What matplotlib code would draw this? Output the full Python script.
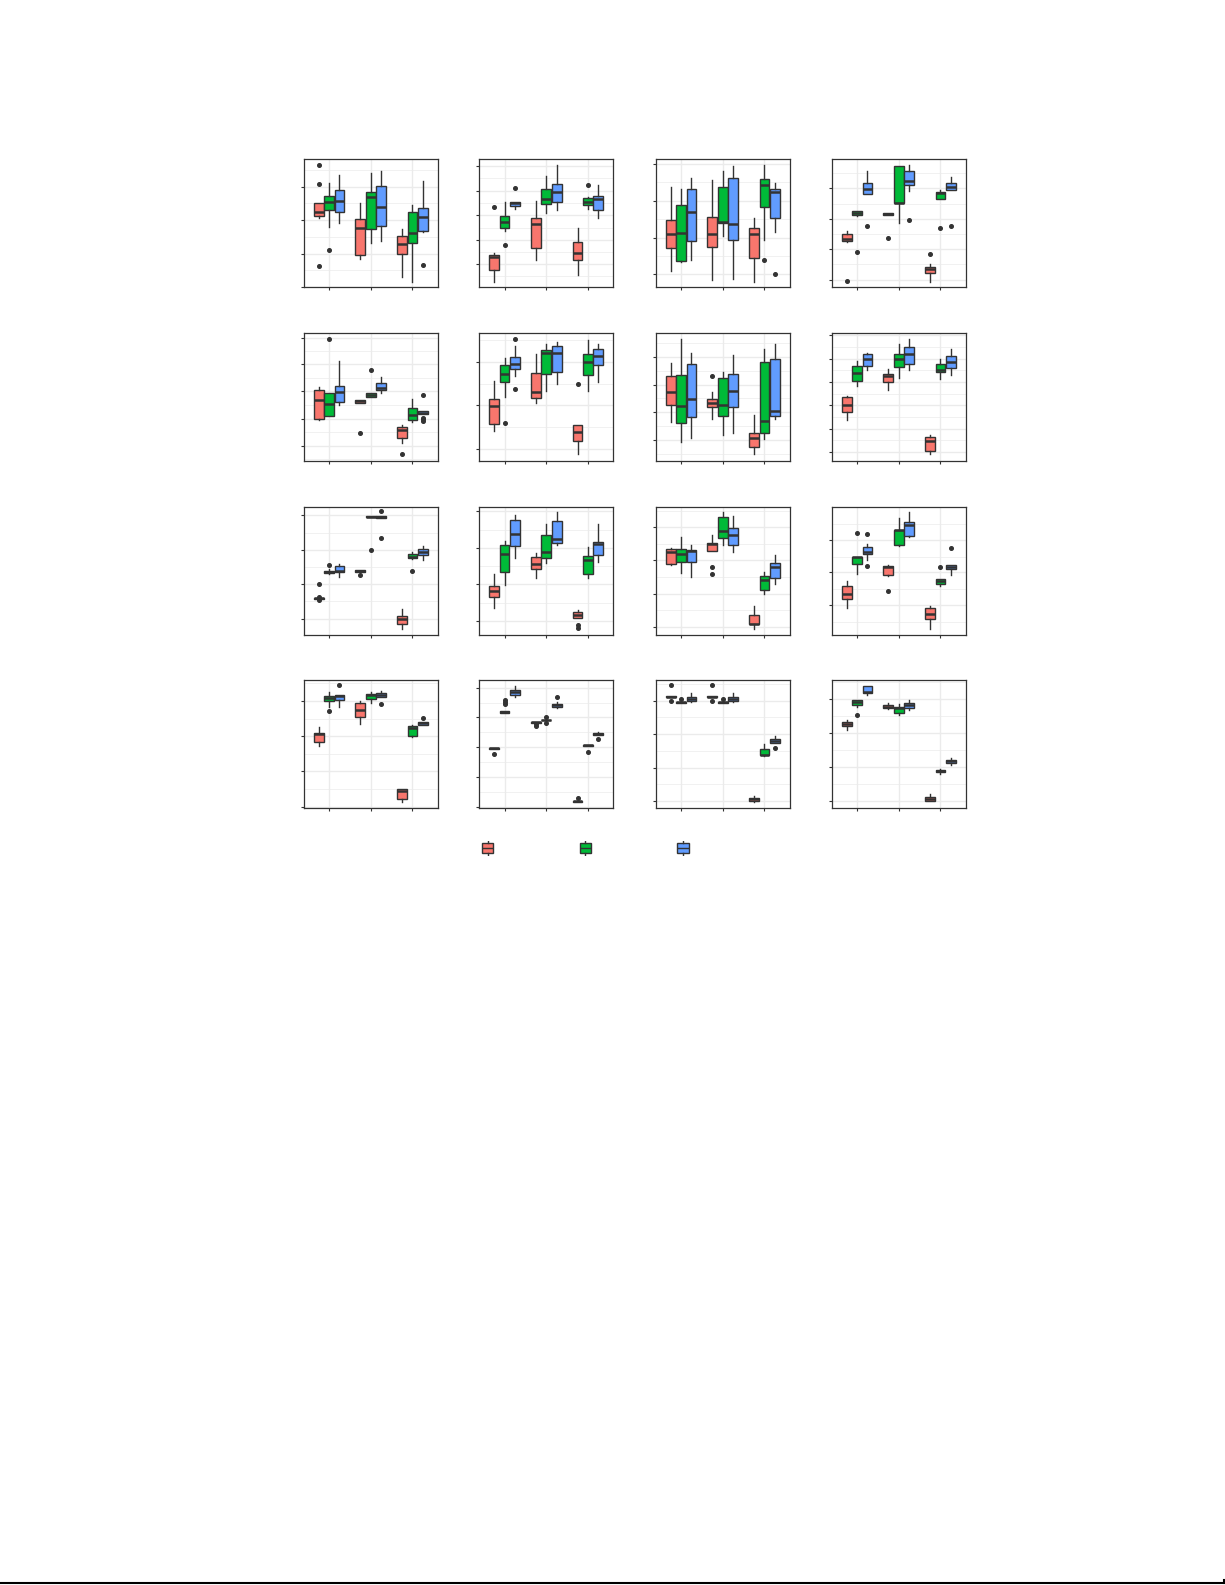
import numpy as np
import matplotlib
matplotlib.use("Agg")
import matplotlib.pyplot as plt
from matplotlib.lines import Line2D

# three groups on each x axis, three dodged series per group
groups = [1, 2, 3]
series_colors = ["#F8766D", "#00BA38", "#619CFF"]

# box stats, per panel -> group -> series
# (whisker low, q1, median, q3, whisker high, outliers)
r1c1 = [
    [(205, 213, 225, 250, 250, [366, 309, 62]), (180, 229, 253, 271, 311, [112]), (192, 225, 258, 289, 335, [])],
    [(84, 97, 177, 202, 250, []), (132, 175, 270, 283, 341, []), (139, 184, 240, 301, 347, [])],
    [(30, 100, 130, 153, 175, []), (15, 133, 162, 223, 244, []), (166, 169, 210, 235, 317, [66])],
]
r1c2 = [
    [(15, 52, 90, 97, 103, [240]), (168, 178, 193, 211, 253, [126]), (234, 241, 250, 253, 253, [295])],
    [(82, 117, 188, 205, 257, []), (222, 247, 263, 292, 332, []), (230, 255, 285, 307, 365, [])],
    [(35, 82, 103, 136, 178, []), (232, 244, 255, 267, 270, [306]), (206, 229, 264, 271, 305, [])],
]
r1c3 = [
    [(48, 117, 158, 199, 298, []), (75, 79, 163, 244, 292, []), (82, 139, 225, 294, 325, [])],
    [(22, 120, 160, 210, 319, []), (152, 192, 194, 298, 347, []), (25, 142, 190, 325, 362, [])],
    [(15, 88, 160, 178, 205, []), (142, 240, 306, 322, 365, [82]), (166, 207, 284, 292, 310, [40])],
]
r1c4 = [
    [(135, 138, 145, 160, 167, [19]), (212, 214, 221, 226, 226, [106]), (277, 277, 294, 310, 347, [183])],
    [(214, 214, 218, 221, 221, [146]), (192, 250, 252, 362, 362, []), (287, 304, 318, 346, 365, [201])],
    [(15, 43, 53, 61, 70, [98]), (262, 264, 282, 285, 290, [176]), (291, 291, 300, 310, 328, [183])],
]
r2c1 = [
    [(123, 127, 183, 214, 224, []), (136, 136, 173, 205, 205, [370]), (168, 178, 208, 226, 302, [])],
    [(174, 174, 180, 185, 185, [84]), (195, 195, 200, 205, 205, [274]), (207, 216, 220, 235, 253, [])],
    [(54, 70, 94, 104, 110, [20]), (117, 124, 140, 160, 187, []), (141, 141, 146, 151, 151, [200, 131, 126, 121])],
]
r2c2 = [
    [(90, 112, 167, 187, 242, []), (195, 238, 262, 289, 310, [115]), (258, 277, 293, 313, 347, [370, 217])],
    [(175, 190, 210, 265, 323, []), (213, 262, 328, 337, 355, []), (232, 268, 328, 347, 359, [])],
    [(22, 61, 88, 109, 109, [233]), (213, 259, 300, 323, 365, []), (238, 289, 318, 340, 353, [])],
]
r2c3 = [
    [(117, 169, 210, 256, 296, []), (57, 115, 166, 259, 370, []), (69, 132, 186, 292, 328, [])],
    [(127, 163, 174, 187, 209, [258]), (78, 136, 170, 252, 268, []), (84, 163, 213, 262, 320, [])],
    [(22, 43, 69, 84, 140, []), (67, 85, 120, 298, 340, []), (127, 135, 151, 307, 355, [])],
]
r2c4 = [
    [(123, 148, 168, 193, 197, []), (228, 243, 265, 286, 301, []), (275, 288, 309, 325, 328, [])],
    [(215, 240, 257, 262, 278, []), (252, 285, 307, 325, 355, []), (275, 292, 324, 346, 370, [])],
    [(22, 30, 59, 73, 79, []), (249, 268, 275, 292, 307, []), (261, 280, 300, 316, 340, [])],
]
r3c1 = [
    [(107, 107, 109, 110, 110, [151, 113, 103]), (182, 186, 189, 192, 196, [208]), (174, 189, 192, 205, 212, [])],
    [(189, 189, 191, 193, 193, [179]), (352, 352, 354, 355, 355, [255]), (349, 349, 354, 356, 356, [370, 291])],
    [(18, 33, 46, 55, 77, []), (226, 229, 233, 241, 247, [190]), (225, 238, 247, 256, 266, [])],
]
r3c2 = [
    [(80, 112, 130, 145, 183, []), (150, 187, 241, 268, 281, []), (231, 265, 303, 343, 360, [])],
    [(171, 196, 211, 232, 245, []), (216, 231, 247, 298, 332, []), (270, 276, 286, 340, 368, [])],
    [(51, 51, 60, 67, 74, [28, 20]), (171, 181, 225, 235, 263, []), (219, 238, 272, 277, 332, [])],
]
r3c3 = [
    [(208, 211, 249, 256, 259, []), (186, 217, 242, 256, 293, []), (174, 217, 250, 254, 269, [])],
    [(250, 250, 271, 274, 299, [202, 181]), (270, 289, 312, 352, 368, []), (249, 268, 298, 319, 356, [])],
    [(18, 31, 33, 58, 86, []), (123, 133, 164, 177, 188, []), (153, 171, 204, 214, 239, [])],
]
r3c4 = [
    [(81, 106, 122, 145, 160, []), (181, 211, 232, 233, 233, [305]), (225, 243, 247, 262, 271, [302, 205])],
    [(175, 178, 203, 205, 208, [130]), (266, 268, 313, 315, 350, []), (292, 295, 330, 338, 368, [])],
    [(18, 46, 63, 79, 86, []), (145, 151, 160, 166, 166, [202]), (180, 196, 202, 208, 208, [260])],
]
r4c1 = [
    [(184, 196, 219, 223, 239, []), (301, 318, 326, 334, 346, [289]), (301, 322, 334, 337, 337, [366])],
    [(249, 271, 291, 313, 319, []), (312, 325, 336, 340, 345, []), (331, 331, 337, 343, 349, [309])],
    [(16, 25, 49, 55, 55, []), (210, 214, 237, 243, 246, []), (247, 247, 252, 256, 256, [268])],
]
r4c2 = [
    [(175, 175, 177, 179, 179, [161]), (283, 283, 286, 289, 289, [320, 315, 310]), (331, 337, 344, 350, 364, [])],
    [(252, 252, 254, 256, 256, [248, 242]), (260, 260, 261, 262, 262, [271, 251]), (298, 301, 307, 310, 314, [331])],
    [(16, 16, 18, 20, 20, [27]), (184, 184, 186, 188, 188, [167]), (217, 217, 220, 223, 226, [203])],
]
r4c3 = [
    [(329, 329, 331, 332, 332, [365, 319]), (313, 313, 315, 316, 316, [323]), (316, 318, 324, 329, 341, [])],
    [(329, 329, 331, 332, 332, [365, 319]), (313, 313, 315, 316, 316, [323]), (316, 318, 324, 329, 341, [])],
    [(16, 20, 24, 28, 35, []), (153, 156, 158, 176, 191, []), (193, 193, 198, 203, 212, [178])],
]
r4c4 = [
    [(231, 244, 248, 256, 262, []), (300, 306, 314, 322, 322, [277]), (337, 343, 344, 364, 364, [])],
    [(293, 297, 301, 305, 313, []), (276, 283, 298, 301, 309, []), (291, 297, 306, 313, 322, [])],
    [(19, 19, 26, 31, 40, []), (100, 105, 109, 113, 115, []), (127, 133, 138, 142, 149, [])],
]

panels = [r1c1, r1c2, r1c3, r1c4,
          r2c1, r2c2, r2c3, r2c4,
          r3c1, r3c2, r3c3, r3c4,
          r4c1, r4c2, r4c3, r4c4]

# y tick positions of each panel (tick labels are blank in the source)
panel_ticks = [
    [0, 100, 200, 300], [70, 142, 214, 288, 362], [40, 148, 258, 367], [22, 113, 203, 295],
    [46, 128, 211, 292, 373], [37, 169, 300], [63, 147, 231, 315], [27, 97, 168, 238, 309, 380],
    [48, 151, 254, 358], [41, 151, 260, 370], [23, 123, 223, 322], [88, 187, 283],
    [1, 109, 214, 319], [1, 91, 181, 269, 358], [19, 119, 220, 319], [19, 121, 222, 324],
]
row_ymax = [383, 387, 385, 382]

# layout in pixels
W, H = 1225, 1585
col_left = [304, 479.5, 656, 832]
row_top = [159, 333, 506.5, 679.5]
ax_w, ax_h = 133.5, 128
edge = "#333333"
grid_c = "#EBEBEB"

fig = plt.figure(figsize=(W / 100, H / 100), dpi=100)

for i, (stats, ticks) in enumerate(zip(panels, panel_ticks)):
    r, c = divmod(i, 4)
    ax = fig.add_axes([col_left[c] / W, 1 - (row_top[r] + ax_h) / H, ax_w / W, ax_h / H])
    ymax = row_ymax[r]

    bstats, pos, cols = [], [], []
    for gi, grp in enumerate(stats):
        for si, (lo, q1, med, q3, hi, fl) in enumerate(grp):
            bstats.append(dict(whislo=lo, q1=q1, med=med, q3=q3, whishi=hi, fliers=fl))
            pos.append(groups[gi] + (si - 1) * 0.25)
            cols.append(series_colors[si])
    res = ax.bxp(bstats, positions=pos, widths=0.235, patch_artist=True,
                 showcaps=False, manage_ticks=False,
                 boxprops=dict(edgecolor=edge, linewidth=1.0),
                 whiskerprops=dict(color=edge, linewidth=1.0),
                 medianprops=dict(color=edge, linewidth=1.8),
                 flierprops=dict(marker="o", markersize=2.6, markerfacecolor=edge,
                                 markeredgecolor=edge))
    for box, col in zip(res["boxes"], cols):
        box.set_facecolor(col)

    step = ticks[1] - ticks[0]
    minors = [t - step / 2 for t in ticks] + [ticks[-1] + step / 2]
    minors = [m for m in minors if 0 < m < ymax]

    ax.set_xlim(0.4, 3.6)
    ax.set_ylim(0, ymax)
    ax.set_xticks(groups)
    ax.set_yticks(ticks)
    ax.set_yticks(minors, minor=True)
    ax.set_axisbelow(True)
    ax.grid(which="major", color=grid_c, linewidth=1.0)
    ax.grid(which="minor", axis="y", color=grid_c, linewidth=0.5)
    ax.tick_params(which="major", direction="out", length=2.5, width=0.8, color=edge,
                   labelleft=False, labelbottom=False)
    ax.tick_params(which="minor", length=0)
    for sp in ax.spines.values():
        sp.set_color(edge)
        sp.set_linewidth(0.9)

# legend keys (labels are blank in the source)
key_centers_px = [487.7, 586.7, 683]
lax = fig.add_axes([(487.7 - 0.5 * 97.7) / W, 1 - 855.5 / H, 3 * 97.7 / W, 14.5 / H])
key = [dict(whislo=0, q1=0.19, med=0.5, q3=0.84, whishi=1, fliers=[]) for _ in series_colors]
kres = lax.bxp(key, positions=[0, 1, 2], widths=0.115, patch_artist=True,
               showcaps=False, manage_ticks=False,
               boxprops=dict(edgecolor=edge, linewidth=1.0),
               whiskerprops=dict(color=edge, linewidth=1.0),
               medianprops=dict(color=edge, linewidth=1.0))
for box, col in zip(kres["boxes"], series_colors):
    box.set_facecolor(col)
lax.set_xlim(-0.5, 2.5)
lax.set_ylim(0, 1)
lax.axis("off")

# page rule at the bottom
yb = 1 - 1583 / H
fig.add_artist(Line2D([0, 1224 / W], [yb, yb], color="black", linewidth=1.5,
                      transform=fig.transFigure))
fig.add_artist(Line2D([1224 / W, 1224 / W], [yb, yb + 3 / H], color="black", linewidth=1.5,
                      transform=fig.transFigure))

fig.savefig("out.png", dpi=100)
